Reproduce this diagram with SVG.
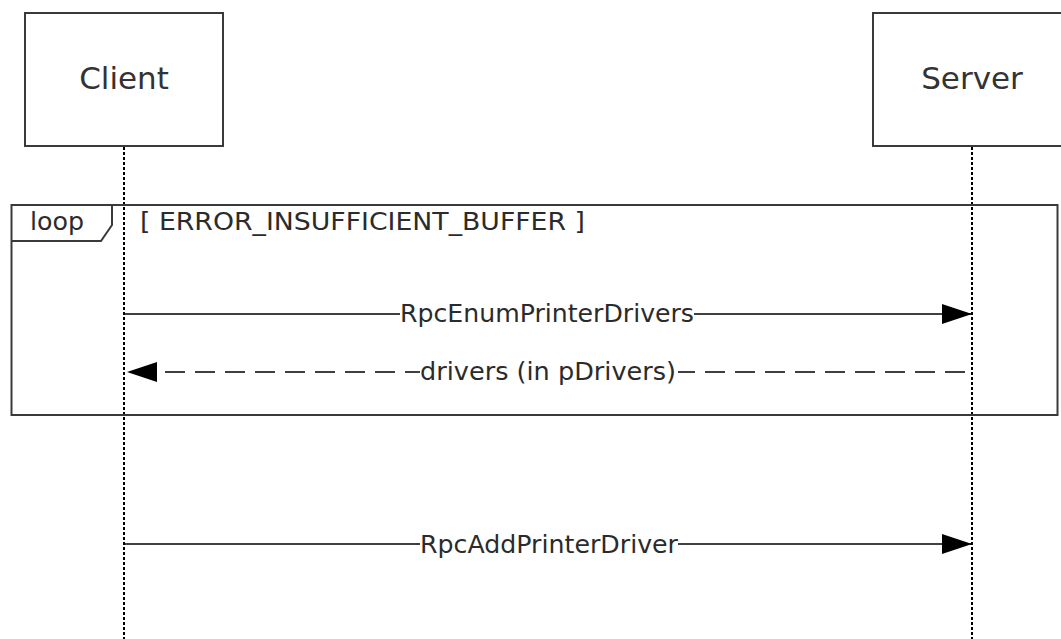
<svg xmlns="http://www.w3.org/2000/svg" width="1061" height="639" viewBox="0 0 1061 639">
<style>
  .box { fill: #ffffff; stroke: #3a3a3a; stroke-width: 2; }
  .life { stroke: #000; stroke-width: 2; stroke-dasharray: 3 2; fill: none; }
  .msg { stroke: #000; stroke-width: 1.5; fill: none; }
  .ret { stroke: #000; stroke-width: 1.5; fill: none; stroke-dasharray: 20 10; }
  .head { font-family: "DejaVu Sans", Verdana, sans-serif; font-size: 31px; fill: #333; text-anchor: middle; }
  .lbl { font-family: "DejaVu Sans", Verdana, sans-serif; font-size: 25px; fill: #2b2b2b; }
  .frame { fill: none; stroke: #3a3a3a; stroke-width: 2; }
</style>
<defs>
  <marker id="arr" markerWidth="30" markerHeight="20" refX="30" refY="10" orient="auto" markerUnits="userSpaceOnUse">
    <path d="M0,0 L30,10 L0,20 Z" fill="#000"/>
  </marker>
</defs>
<rect width="1061" height="639" fill="#fff"/>

<g id="client">
  <rect class="box" x="25" y="13" width="198" height="133"/>
  <text class="head" x="124" y="89">Client</text>
  <line class="life" x1="124" y1="147" x2="124" y2="639"/>
</g>
<g id="server">
  <rect class="box" x="873" y="13" width="200" height="133"/>
  <text class="head" x="972" y="89">Server</text>
  <line class="life" x1="972" y1="147" x2="972" y2="639"/>
</g>

<g id="loop">
  <rect class="frame" x="11.5" y="205" width="1046" height="210"/>
  <path class="frame" d="M11.5,241 L101,241 L112,225 L112,205"/>
  <text class="lbl" x="30" y="230" textLength="54" lengthAdjust="spacingAndGlyphs">loop</text>
  <text class="lbl" x="140" y="230" textLength="445" lengthAdjust="spacingAndGlyphs">[ ERROR_INSUFFICIENT_BUFFER ]</text>
</g>

<g id="connectors">
  <line class="msg" x1="124" y1="314" x2="972" y2="314" marker-end="url(#arr)"/>
  <rect x="400" y="300" width="294" height="28" fill="#fff"/>
  <text class="lbl" x="400" y="322" textLength="294" lengthAdjust="spacingAndGlyphs">RpcEnumPrinterDrivers</text>

  <line class="ret" x1="965" y1="372" x2="127" y2="372"/>
  <path d="M157,362 L127,372 L157,382 Z" fill="#000"/>
  <rect x="420" y="357" width="258" height="28" fill="#fff"/>
  <text class="lbl" x="420" y="380" textLength="256" lengthAdjust="spacingAndGlyphs">drivers (in pDrivers)</text>

  <line class="msg" x1="124" y1="544" x2="972" y2="544" marker-end="url(#arr)"/>
  <rect x="420" y="530" width="258" height="28" fill="#fff"/>
  <text class="lbl" x="420" y="553" textLength="258" lengthAdjust="spacingAndGlyphs">RpcAddPrinterDriver</text>
</g>
</svg>
